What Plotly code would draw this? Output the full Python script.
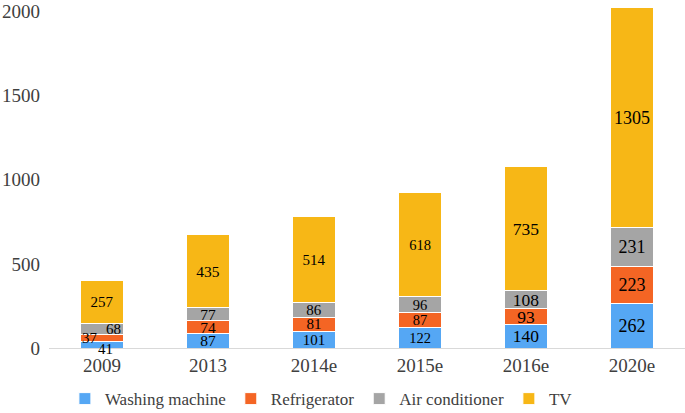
import plotly.graph_objects as go

categories = ["2009", "2013", "2014e", "2015e", "2016e", "2020e"]
washing = [41, 87, 101, 122, 140, 262]
refrigerator = [37, 74, 81, 87, 93, 223]
air_cond = [68, 77, 86, 96, 108, 231]
tv = [257, 435, 514, 618, 735, 1305]
label_sizes = [15, 15.5, 15, 14.5, 17.5, 18]

series = [
    ("Washing machine", washing, "#55A7F4"),
    ("Refrigerator", refrigerator, "#F46524"),
    ("Air conditioner", air_cond, "#A5A5A5"),
    ("TV", tv, "#F7B716"),
]

FONT = "Liberation Serif, DejaVu Serif, serif"

fig = go.Figure()
for name, vals, color in series:
    texts = [str(v) for v in vals]
    if name != "TV":
        texts[0] = ""  # small 2009 segments labelled via annotations
    fig.add_trace(go.Bar(
        name=name, x=categories, y=vals,
        marker=dict(color=color, line=dict(color="white", width=1)),
        text=texts, textposition="inside", insidetextanchor="middle", textangle=0,
        constraintext="none", textfont=dict(family=FONT, color="black", size=label_sizes),
        hoverinfo="skip",
    ))

# 2009 small-segment labels (x given as category index)
base = 0
shifts = {"Washing machine": (3, -4), "Refrigerator": (-12, 0), "Air conditioner": (11, 0)}
for name, vals, color in series[:3]:
    v = vals[0]
    dx, dy = shifts[name]
    fig.add_annotation(x=0, y=base + v / 2, text=str(v), showarrow=False,
                       xshift=dx, yshift=dy, font=dict(family=FONT, size=15, color="black"))
    base += v

fig.update_layout(
    barmode="stack", bargap=0.6,
    width=685, height=413,
    margin=dict(l=49, r=0, t=3, b=65, autoexpand=False),
    plot_bgcolor="white", paper_bgcolor="white",
    font=dict(family=FONT, color="#404040"),
    showlegend=True,
    legend=dict(orientation="h", x=0.025, y=-0.148, xanchor="left", yanchor="middle",
                font=dict(family=FONT, size=17, color="#404040"), traceorder="normal"),
)
fig.update_xaxes(type="category", range=[-0.5, 5.5], showline=True, linecolor="#D9D9D9",
                 linewidth=1, ticks="", automargin=False,
                 tickfont=dict(family=FONT, size=19, color="#404040"))
fig.update_yaxes(range=[0, 2050], tickvals=[0, 500, 1000, 1500, 2000], showgrid=False,
                 zeroline=False, showline=False, ticks="", ticklabelstandoff=8, automargin=False,
                 tickfont=dict(family=FONT, size=19, color="#404040"))

fig.write_html("out.html", config={"displayModeBar": False},
               post_script="document.body.style.margin='0';")
